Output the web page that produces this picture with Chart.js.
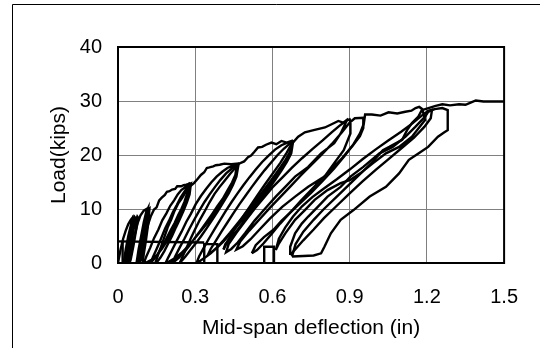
<!DOCTYPE html>
<html><head><meta charset="utf-8">
<script src="https://cdn.jsdelivr.net/npm/chart.js@4.4.1/dist/chart.umd.min.js"></script>
<style>html,body{margin:0;padding:0;background:#fff;} #wrap{position:relative;width:540px;height:348px;} canvas{display:block;}</style>
</head><body><div id="wrap"><canvas id="c" width="540" height="348"></canvas></div>
<script>
// Axis ticks
const xTicks = [0, 0.3, 0.6, 0.9, 1.2, 1.5];
const xTickLabels = ['0', '0.3', '0.6', '0.9', '1.2', '1.5'];
const yTicks = [0, 10, 20, 30, 40];

// Load (kips) vs mid-span deflection (in), [deflection, load] pairs per cycle group
const cycle8 = [[0,0],[0.01,2.5],[0.02,4.5],[0.03,6],[0.04,7.2],[0.05,8],[0.055,8.3],[0.05,6.5],[0.04,4],[0.03,1.8],[0.022,0],[0.03,2.5],[0.04,5],[0.05,7],[0.058,8.4],[0.062,8.2],[0.055,6],[0.045,3.5],[0.035,1],[0.03,0],[0.038,2.5],[0.048,5],[0.058,7.3],[0.065,8.5],[0.07,8.2],[0.06,6],[0.05,3],[0.04,0.5],[0.038,0],
  [0.045,2.5],[0.055,5],[0.065,7.2],[0.075,8.6],[0.078,8.4],[0.07,6],[0.06,3.2],[0.05,0.8],[0.045,0]];
const cycle10 = [[0.045,0],[0.052,2],[0.064,5],[0.077,7.5],[0.087,8.8],[0.1,9.7],[0.114,10.1],[0.11,8],[0.1,5.5],[0.09,3],[0.08,1],[0.072,0],[0.08,2.5],[0.09,5],[0.1,7.5],[0.11,9.5],[0.117,10.2],[0.112,7.5],[0.1,4],[0.09,1.2],[0.085,0],[0.092,3],[0.102,6],[0.112,8.5],[0.12,10],[0.115,7],[0.105,3.5],[0.095,0.8],[0.08,0],
  [0.088,2.5],[0.098,5.5],[0.108,8],[0.118,9.8],[0.122,10],[0.118,7.5],[0.108,4],[0.098,1],[0.08,0]];
const cycle14 = [[0.08,0],[0.088,1.5],[0.097,3.5],[0.106,5.2],[0.116,7],[0.127,8.6],[0.14,9.9],[0.15,10.3],[0.16,11.6],[0.17,12.1],[0.182,12.6],[0.19,13.2],[0.2,13.3],[0.21,13.6],[0.222,13.7],[0.23,14.2],[0.245,14.2],[0.255,14.4],[0.265,14.5],[0.28,14.7],
  [0.279,13.4],[0.272,12.2],[0.262,11],[0.25,9.6],[0.237,8.3],[0.222,6.8],[0.205,5.3],[0.188,3.9],[0.17,2.6],[0.15,1.4],[0.13,0.6],[0.11,0.1],[0.1,0],
  [0.11,1.2],[0.125,2.8],[0.14,4.6],[0.157,6.2],[0.172,7.9],[0.188,9.2],[0.203,10.6],[0.218,11.6],[0.232,12.7],[0.246,13.5],[0.26,14],[0.272,14.5],
  [0.268,12.8],[0.258,11.3],[0.247,10.1],[0.234,8.9],[0.22,7.4],[0.205,6.1],[0.19,4.7],[0.175,3.3],[0.16,2.1],[0.145,1],[0.132,0.3],[0.125,0],
  [0.135,1],[0.15,2.6],[0.167,4.5],[0.183,6.4],[0.198,7.8],[0.213,9.4],[0.228,10.7],[0.243,12.1],[0.258,13.2],[0.27,14],[0.283,14.6],
  [0.278,12.7],[0.268,11.3],[0.255,9.7],[0.24,8.1],[0.225,6.6],[0.21,5],[0.195,3.6],[0.18,2.2],[0.165,1],[0.152,0.2],[0.145,0]];
const cycle18 = [[0.145,0],[0.155,1.4],[0.167,3],[0.18,4.8],[0.193,6.6],[0.207,8.1],[0.22,9.7],[0.235,11.1],[0.25,12.1],[0.265,13.3],[0.28,14.2],[0.295,14.8],[0.31,15.6],[0.322,16.3],[0.335,16.8],[0.345,17.6],[0.355,17.7],[0.37,17.9],[0.38,18.1],[0.395,18.2],[0.413,18.4],[0.44,18.3],[0.465,18.4],
  [0.463,17],[0.455,15.6],[0.44,14.2],[0.423,12.8],[0.405,11.3],[0.385,9.9],[0.363,8.4],[0.34,7],[0.316,5.6],[0.292,4.2],[0.268,2.9],[0.245,1.8],[0.222,0.9],[0.2,0.3],[0.185,0],
  [0.195,1],[0.21,2.4],[0.228,4.1],[0.247,5.8],[0.265,7.6],[0.283,9.1],[0.302,10.9],[0.322,12.4],[0.342,13.7],[0.362,14.9],[0.383,16],[0.405,16.9],[0.425,17.6],[0.445,18],[0.462,18.3],
  [0.456,16.3],[0.443,14.9],[0.426,13.5],[0.407,11.9],[0.386,10.5],[0.365,9],[0.343,7.5],[0.32,6],[0.298,4.6],[0.277,3.2],[0.257,2],[0.237,1],[0.22,0.3],[0.21,0],
  [0.222,1.2],[0.24,2.9],[0.258,4.5],[0.277,6.3],[0.296,8],[0.316,9.7],[0.336,11.3],[0.356,12.7],[0.377,14.1],[0.398,15.4],[0.42,16.6],[0.442,17.5],[0.468,18.2],
  [0.46,16],[0.447,14.5],[0.43,12.9],[0.41,11.3],[0.388,9.6],[0.366,8],[0.344,6.4],[0.322,4.9],[0.3,3.5],[0.28,2.3],[0.262,1.2],[0.247,0.4],[0.24,0]];
const cycle22 = [[0.24,0],[0.252,1.3],[0.266,2.8],[0.282,4.5],[0.3,6.3],[0.318,8],[0.336,9.5],[0.355,11.2],[0.375,12.8],[0.395,14.1],[0.415,15.3],[0.435,16.5],[0.455,17.6],[0.47,18.4],[0.49,18.8],[0.505,19.6],[0.517,19.9],[0.53,20.6],[0.544,21.4],[0.56,21.5],[0.575,21.9],[0.596,22.3],[0.615,22],[0.635,22.6],[0.655,22.3],[0.674,22.6],
  [0.671,21.2],[0.662,19.8],[0.647,18.5],[0.628,17.1],[0.607,15.7],[0.585,14.2],[0.562,12.8],[0.538,11.3],[0.513,9.8],[0.488,8.3],[0.462,6.8],[0.436,5.4],[0.41,4],[0.384,2.8],[0.36,1.8],[0.338,1],[0.32,0.4],[0.305,0],
  [0.315,1.2],[0.332,2.7],[0.352,4.4],[0.373,6.1],[0.395,7.8],[0.417,9.5],[0.44,11.2],[0.463,12.8],[0.487,14.4],[0.511,15.9],[0.535,17.3],[0.56,18.7],[0.585,19.9],[0.61,21],[0.635,21.8],[0.658,22.3],[0.676,22.5],
  [0.668,20.6],[0.652,19.2],[0.632,17.8],[0.61,16.3],[0.587,14.8],[0.563,13.3],[0.538,11.8],[0.512,10.2],[0.486,8.6],[0.46,7.1],[0.435,5.6],[0.41,4.2],[0.387,3],[0.366,2.1],[0.35,1.6],
  [0.36,2.6],[0.38,4.1],[0.402,5.8],[0.425,7.5],[0.448,9.2],[0.472,10.9],[0.496,12.5],[0.52,14.1],[0.545,15.7],[0.57,17.2],[0.595,18.6],[0.62,20],[0.645,21.2],[0.665,22],[0.68,22.4],
  [0.673,20.3],[0.656,18.7],[0.635,17.1],[0.612,15.5],[0.588,13.9],[0.563,12.3],[0.537,10.6],[0.511,9],[0.485,7.4],[0.46,5.9],[0.437,4.6],[0.417,3.5],[0.41,2.5]];
const cycle26 = [[0.41,2.5],[0.425,4],[0.45,6],[0.48,8.2],[0.51,10.3],[0.54,12.4],[0.57,14.5],[0.6,16.5],[0.63,18.5],[0.655,20.4],[0.674,22],[0.7,23.4],[0.726,24.2],[0.76,24.6],[0.804,25.1],[0.83,25.7],[0.856,26.3],[0.875,26],[0.895,26.7],
  [0.89,26.5],[0.865,24],[0.84,22.2],[0.789,20.3],[0.739,17.8],[0.688,16],[0.65,14.1],[0.613,12.3],[0.57,10],[0.53,7.8],[0.495,5.6],[0.465,3.8],[0.44,2.6],[0.42,2],
  [0.43,3.5],[0.46,5.6],[0.495,7.8],[0.53,10],[0.565,12],[0.6,14],[0.638,15.8],[0.675,17.6],[0.715,19.4],[0.755,21.1],[0.795,22.7],[0.83,24.2],[0.86,25.4],[0.885,26.3],[0.9,26.6],
  [0.903,26.2],[0.903,24],[0.877,20.9],[0.84,18.5],[0.802,16],[0.739,14.1],[0.688,12.3],[0.638,10.4],[0.59,8.2],[0.55,6.2],[0.515,4.4],[0.485,3.1],[0.46,2.5],
  [0.475,4],[0.51,6],[0.55,8.1],[0.59,10.2],[0.63,12.2],[0.67,14.2],[0.71,16.2],[0.75,18.1],[0.79,20],[0.83,22],[0.87,24.2],[0.9,26],[0.92,26.8],[0.953,26.9],
  [0.953,25],[0.94,23.5],[0.91,21.6],[0.87,19.4],[0.83,17.4],[0.79,15.5],[0.75,13.5],[0.71,11.5],[0.67,9.4],[0.63,7.3],[0.595,5.3],[0.565,3.6],[0.54,2.4],[0.52,1.8]];
const cycle28 = [[0.52,1.8],[0.535,3.3],[0.567,4.8],[0.605,6.2],[0.635,7.8],[0.668,9.3],[0.706,11],[0.75,13],[0.795,15.2],[0.84,17.5],[0.88,19.8],[0.915,22],[0.94,24],[0.955,25.8],[0.96,27.5],[0.986,27.5],[1.02,27.3],[1.051,27.9],[1.085,27.7],[1.116,28],[1.14,28.2],[1.156,28.7],[1.17,28.9],[1.182,28.5],
  [1.193,26.5],[1.142,23.4],[1.092,21.5],[1.041,20.3],[0.991,18.5],[0.941,16.6],[0.903,15.4],[0.865,14.8],[0.814,13.5],[0.764,11.7],[0.726,9.8],[0.688,8],[0.65,5.5],[0.625,3.6],[0.613,2.4],
  [0.625,4.5],[0.65,6.6],[0.68,8.6],[0.715,10.5],[0.755,12.2],[0.8,13.8],[0.85,15.5],[0.9,17.3],[0.95,19.2],[1,21],[1.05,22.7],[1.1,24.3],[1.145,25.9],[1.18,27.3],[1.205,28.2],[1.22,28.4],
  [1.215,26.8],[1.19,25.2],[1.15,23.2],[1.1,21.2],[1.05,19.2],[1,17.2],[0.95,15.1],[0.9,12.9],[0.85,10.6],[0.8,8.3],[0.76,6.2],[0.72,4.2],[0.69,2.6],[0.669,1.5]];
const cycle28b = [[0.669,1.5],[0.669,3],[0.688,5.5],[0.714,7.3],[0.739,8.6],[0.776,10.4],[0.814,12.3],[0.865,14.1],[0.903,16],[0.953,17.8],[1.016,20.3],[1.067,21.5],[1.117,23.4],[1.155,25.2],[1.193,27.1],[1.205,28],[1.23,28.5],[1.26,28.7],[1.281,28.3],
  [1.281,26.5],[1.281,24.6],[1.268,24.2],[1.243,23.4],[1.205,21.5],[1.167,20.3],[1.13,19.1],[1.092,16.6],[1.041,14.1],[0.978,12.3],[0.915,9.8],[0.865,8],[0.827,5.5],[0.802,3],[0.789,1.8],[0.76,1.4],[0.72,1.3],[0.676,1.2]];
const finalLoad = [[0.676,1.2],[0.69,3.5],[0.72,5.8],[0.76,8],[0.8,10],[0.85,12.3],[0.9,14.6],[0.95,16.9],[0.99,18.8],[1.029,20.9],[1.054,21.5],[1.104,22.8],[1.123,24.6],[1.142,25.9],[1.167,27.1],[1.18,28.3],[1.2,28.6],[1.234,29.1],[1.26,29.4],[1.29,29.2],[1.325,29.4],[1.35,29.3],[1.37,29.7],[1.39,30.1],[1.42,29.9],[1.46,29.9],[1.5,29.9]];
const holdLine = [[0,4],[0.335,3.8]];
const holdBox1 = [[0.335,0],[0.335,3.5],[0.386,3.5],[0.386,0]];
const holdBox2 = [[0.568,0],[0.568,3],[0.606,3],[0.606,0]];
const holdBar0 = [[0.018,0],[0.018,4]];
const holdBar1 = [[0.097,0],[0.097,4]];

const groups = [cycle8, cycle10, cycle14, cycle18, cycle22, cycle26, cycle28, cycle28b, finalLoad, holdLine, holdBox1, holdBox2, holdBar0, holdBar1];

const FONT = '"Liberation Sans", Arial, sans-serif';

const framePlugin = {
  id: 'framePlugin',
  beforeDraw(chart) {
    const c = chart.ctx;
    c.save();
    c.fillStyle = '#fff';
    c.fillRect(0, 0, chart.width, chart.height);
    c.strokeStyle = '#000';
    c.lineWidth = 1;
    c.beginPath();
    c.moveTo(12.5, chart.height);
    c.lineTo(12.5, 4.5);
    c.lineTo(chart.width, 4.5);
    c.stroke();
    c.restore();
  },
  afterDatasetsDraw(chart) {
    const a = chart.chartArea;
    const c = chart.ctx;
    c.save();
    c.strokeStyle = '#000';
    c.lineWidth = 2;
    c.strokeRect(a.left, a.top, a.right - a.left, a.bottom - a.top);
    c.restore();
  }
};

new Chart(document.getElementById('c'), {
  type: 'scatter',
  data: {
    datasets: groups.map(g => ({
      data: g.map(p => ({x: p[0], y: p[1]})),
      showLine: true,
      borderColor: '#000',
      backgroundColor: '#000',
      borderWidth: 2.4,
      pointRadius: 0,
      fill: false,
      tension: 0
    }))
  },
  options: {
    responsive: false,
    animation: false,
    devicePixelRatio: 1,
    layout: {padding: {left: 0, right: 25, top: 47, bottom: 0}},
    plugins: {legend: {display: false}, tooltip: {enabled: false}},
    scales: {
      x: {
        type: 'linear', min: 0, max: 1.5,
        afterBuildTicks: s => { s.ticks = xTicks.map(v => ({value: v})); },
        afterFit: s => { s.height = 85; },
        grid: {color: '#808080', lineWidth: 1, drawTicks: false},
        border: {display: false},
        ticks: {padding: 22, color: '#000', maxRotation: 0, autoSkip: false,
          font: {size: 20, family: FONT},
          callback: (v, i) => xTickLabels[i]},
        title: {display: true, text: 'Mid-span deflection (in)', color: '#000',
          font: {size: 21, family: FONT}, padding: {top: 0, bottom: 7}}
      },
      y: {
        type: 'linear', min: 0, max: 40,
        afterBuildTicks: s => { s.ticks = yTicks.map(v => ({value: v})); },
        afterFit: s => { s.width = 118; },
        grid: {color: '#808080', lineWidth: 1, drawTicks: false},
        border: {display: false},
        ticks: {padding: 16, color: '#000', font: {size: 20, family: FONT},
          callback: v => String(v)},
        title: {display: true, text: 'Load(kips)', color: '#000',
          font: {size: 21, family: FONT}, padding: {top: 47, bottom: 0}}
      }
    }
  },
  plugins: [framePlugin]
});
</script>
</body></html>
